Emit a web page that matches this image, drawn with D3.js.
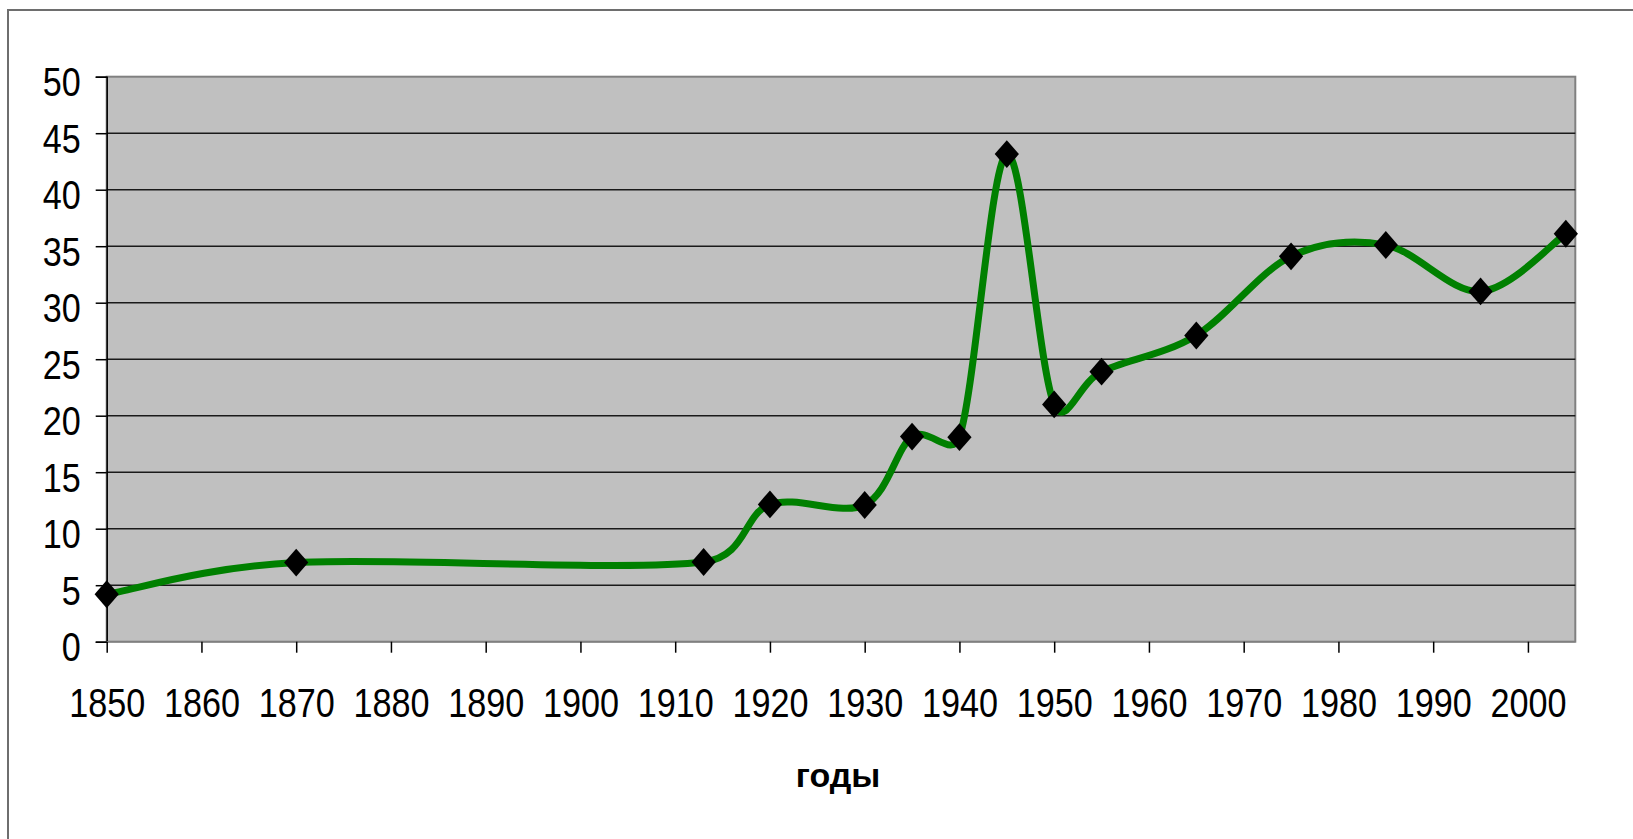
<!DOCTYPE html>
<meta charset="utf-8">
<title>годы</title>
<style>
body { margin: 0; background: #fff; }
svg { display: block; }
.tick text { font-family: "Liberation Sans", Arial, sans-serif; font-size: 40px; fill: #000; }
.xtitle { font-family: "Liberation Sans", Arial, sans-serif; font-weight: bold; font-size: 34px; }
</style>
<body>
<script src="https://cdn.jsdelivr.net/npm/d3@7"></script>
<script>
'use strict';

// data
const years  = [1850, 1870, 1913, 1920, 1930, 1935, 1940, 1945, 1950, 1955, 1965, 1975, 1985, 1995, 2004];
const values = [4.2, 7.0, 7.05, 12.15, 12.1, 18.15, 18.1, 43.15, 21.0, 23.9, 27.1, 34.1, 35.1, 31.0, 36.1];
const xTicks = [1850, 1860, 1870, 1880, 1890, 1900, 1910, 1920, 1930, 1940, 1950, 1960, 1970, 1980, 1990, 2000];
const yTicks = [0, 5, 10, 15, 20, 25, 30, 35, 40, 45, 50];

const W = 1633, H = 839;
const margin = {top: 76.7, right: 57.7, bottom: 197.3, left: 106.7},
      width = W - margin.left - margin.right,
      height = H - margin.top - margin.bottom;

// excel-like smoothing: catmull-rom (1/6) with control offset clamped to half the segment
function ExcelCurve(context) { this._context = context; }
ExcelCurve.prototype = {
  areaStart() {}, areaEnd() {},
  lineStart() { this._pts = []; },
  point(x, y) { this._pts.push([+x, +y]); },
  lineEnd() {
    const p = this._pts, c = this._context, n = p.length;
    if (!n) return;
    const dist = (a, b) => Math.hypot(b[0] - a[0], b[1] - a[1]);
    c.moveTo(p[0][0], p[0][1]);
    for (let i = 0; i < n - 1; i++) {
      const p0 = p[i - 1] || p[i], p1 = p[i], p2 = p[i + 1], p3 = p[i + 2] || p[i + 1];
      const d12 = dist(p1, p2), d02 = dist(p0, p2), d13 = dist(p1, p3);
      let f1 = 1 / 6, f2 = 1 / 6;
      if (d02 / 6 >= d12 / 2) f1 = d12 / (2 * d02);
      if (d13 / 6 >= d12 / 2) f2 = d12 / (2 * d13);
      c.bezierCurveTo(
        p1[0] + (p2[0] - p0[0]) * f1, p1[1] + (p2[1] - p0[1]) * f1,
        p2[0] - (p3[0] - p1[0]) * f2, p2[1] - (p3[1] - p1[1]) * f2,
        p2[0], p2[1]);
    }
  }
};
const curveExcel = ctx => new ExcelCurve(ctx);

const svg = d3.select("body").append("svg")
    .attr("width", W)
    .attr("height", H);

// outer frame (only left + top visible in the picture)
svg.append("path")
    .attr("d", `M8,${H}V10H${W}`)
    .attr("fill", "none")
    .attr("stroke", "#6e6e6e")
    .attr("stroke-width", 2);

const x = d3.scaleLinear().domain([1850, 2005]).range([0, width]);
const y = d3.scaleLinear().domain([0, 50]).range([height, 0]);

const g = svg.append("g").attr("transform", `translate(${margin.left},${margin.top})`);

g.append("rect")
    .attr("width", width)
    .attr("height", height)
    .attr("fill", "#c0c0c0")
    .attr("stroke", "#808080")
    .attr("stroke-width", 2);

// grid
g.selectAll(".grid")
  .data(yTicks.filter(d => d > 0 && d < 50))
  .enter().append("line")
    .attr("x1", 0).attr("x2", width)
    .attr("y1", d => y(d)).attr("y2", d => y(d))
    .attr("stroke", "#1a1a1a")
    .attr("stroke-width", 1.5);

const yAxis = g.append("g")
    .call(d3.axisLeft(y).tickValues(yTicks).tickSize(11).tickPadding(15));
const xAxis = g.append("g")
    .attr("transform", `translate(0,${height})`)
    .call(d3.axisBottom(x).tickValues(xTicks).tickFormat(d3.format("d")).tickSize(11).tickPadding(36));

[yAxis, xAxis].forEach(a => {
  a.select(".domain").attr("stroke", "#000").attr("stroke-width", 1.5);
  a.selectAll(".tick line").attr("stroke", "#000").attr("stroke-width", 1.5);
  a.selectAll(".tick text")
    .attr("textLength", function() { return 19 * this.textContent.length; })
    .attr("lengthAdjust", "spacingAndGlyphs");
});
yAxis.selectAll(".tick text").attr("dy", "0.47em");
xAxis.selectAll(".tick text").attr("dy", "0.72em");
xAxis.select(".domain").attr("stroke", "#808080").attr("d", `M0,0H${width}`);

const pts = years.map((d, i) => [d, values[i]]);

const line = d3.line()
    .x(d => x(d[0]))
    .y(d => y(d[1]))
    .curve(curveExcel);

g.append("path")
    .datum(pts)
    .attr("fill", "none")
    .attr("stroke", "#008000")
    .attr("stroke-width", 7)
    .attr("stroke-linejoin", "round")
    .attr("d", line);

g.selectAll(".pt")
  .data(pts)
  .enter().append("path")
    .attr("class", "pt")
    .attr("transform", d => `translate(${x(d[0])},${y(d[1])}) scale(0.93,1.07) rotate(45)`)
    .attr("d", d3.symbol(d3.symbolSquare, 340))
    .attr("fill", "#000");

svg.append("text")
    .attr("class", "xtitle")
    .attr("x", 838)
    .attr("y", 787)
    .attr("text-anchor", "middle")
    .text("годы");
</script>
